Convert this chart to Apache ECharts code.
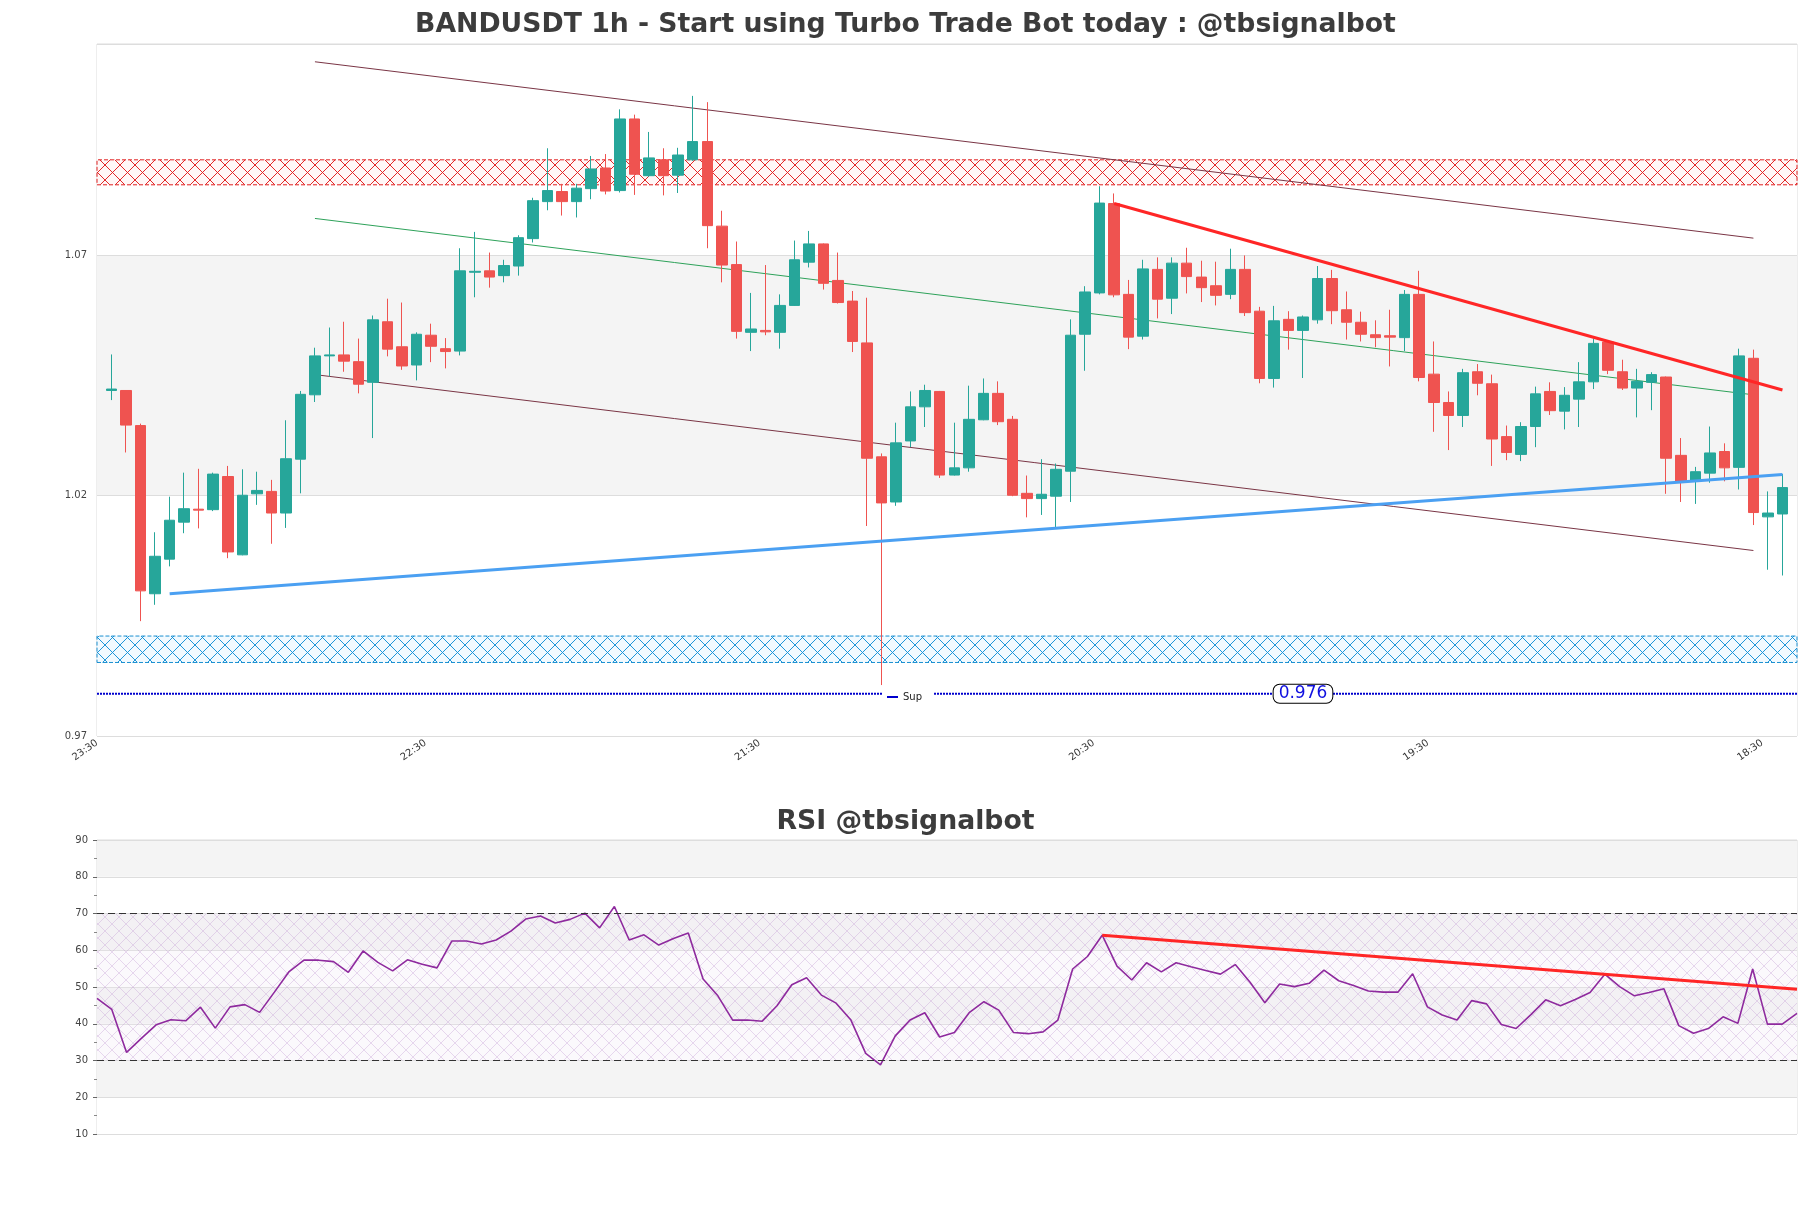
<!DOCTYPE html>
<html>
<head>
<meta charset="utf-8">
<script src="https://cdn.jsdelivr.net/npm/echarts@6/dist/echarts.min.js"></script>
<style>
html,body{margin:0;padding:0;background:#fff;}
#main{width:1811px;height:1208px;}
</style>
</head>
<body>
<div id="main"></div>
<script>
// ---------- data ----------
const timeLabels = ['23:30', '22:30', '21:30', '20:30', '19:30', '18:30'];

const opens = [1.0419,1.0419,1.0346,0.9996,1.0068,1.0145,1.0172,1.0171,1.0240,1.0077,
1.0204,1.0209,1.0164,1.0276,1.0410,1.0491,1.0493,1.0479,1.0436,1.0562,
1.0510,1.0472,1.0534,1.0506,1.0501,1.0665,1.0668,1.0658,1.0678,1.0735,
1.0812,1.0833,1.0812,1.0839,1.0882,1.0835,1.0984,1.0866,1.0899,1.0867,
1.0899,1.0937,1.0761,1.0681,1.0540,1.0544,1.0540,1.0596,1.0686,1.0724,
1.0648,1.0605,1.0518,1.0281,1.0187,1.0314,1.0385,1.0417,1.0243,1.0258,
1.0358,1.0413,1.0359,1.0205,1.0194,1.0199,1.0251,1.0536,1.0622,1.0808,
1.0619,1.0532,1.0671,1.0611,1.0684,1.0655,1.0637,1.0619,1.0671,1.0584,
1.0444,1.0567,1.0544,1.0566,1.0652,1.0587,1.0561,1.0535,1.0533,1.0529,
1.0619,1.0453,1.0394,1.0367,1.0458,1.0433,1.0323,1.0286,1.0344,1.0417,
1.0376,1.0401,1.0437,1.0520,1.0458,1.0424,1.0436,1.0447,1.0284,1.0230,
1.0247,1.0292,1.0259,1.0486,1.0156,1.0162];
const closes = [1.0422,1.0347,1.0002,1.0074,1.0149,1.0173,1.0170,1.0245,1.0083,1.0201,
1.0211,1.0164,1.0277,1.0411,1.0491,1.0493,1.0480,1.0432,1.0566,1.0505,
1.0470,1.0536,1.0511,1.0500,1.0668,1.0667,1.0655,1.0679,1.0737,1.0814,
1.0835,1.0812,1.0840,1.0880,1.0834,1.0984,1.0869,1.0903,1.0866,1.0909,
1.0937,1.0762,1.0680,1.0542,1.0547,1.0541,1.0596,1.0691,1.0724,1.0642,
1.0602,1.0521,1.0278,1.0185,1.0310,1.0385,1.0419,1.0243,1.0258,1.0359,
1.0413,1.0354,1.0201,1.0194,1.0203,1.0255,1.0534,1.0624,1.0809,1.0618,
1.0530,1.0672,1.0609,1.0684,1.0656,1.0633,1.0617,1.0671,1.0581,1.0444,
1.0564,1.0544,1.0572,1.0652,1.0585,1.0561,1.0536,1.0529,1.0530,1.0619,
1.0446,1.0394,1.0367,1.0456,1.0434,1.0318,1.0290,1.0344,1.0412,1.0377,
1.0409,1.0437,1.0517,1.0461,1.0424,1.0438,1.0452,1.0278,1.0230,1.0250,
1.0289,1.0258,1.0491,1.0165,1.0164,1.0217];
const lows = [1.0399,1.0290,0.9939,0.9973,1.0053,1.0122,1.0132,1.0168,1.0070,1.0076,
1.0181,1.0100,1.0133,1.0205,1.0395,1.0448,1.0458,1.0413,1.0320,1.0490,
1.0462,1.0440,1.0478,1.0465,1.0492,1.0613,1.0633,1.0644,1.0658,1.0727,
1.0794,1.0783,1.0779,1.0817,1.0827,1.0831,1.0826,1.0864,1.0825,1.0830,
1.0897,1.0715,1.0644,1.0527,1.0501,1.0534,1.0506,1.0595,1.0675,1.0629,
1.0600,1.0499,1.0137,0.9806,1.0179,1.0301,1.0343,1.0237,1.0242,1.0250,
1.0357,1.0347,1.0199,1.0155,1.0160,1.0133,1.0187,1.0460,1.0619,1.0613,
1.0505,1.0525,1.0569,1.0578,1.0621,1.0603,1.0596,1.0609,1.0574,1.0434,
1.0425,1.0504,1.0445,1.0558,1.0557,1.0525,1.0521,1.0509,1.0469,1.0501,
1.0438,1.0333,1.0295,1.0343,1.0409,1.0262,1.0274,1.0272,1.0301,1.0368,
1.0338,1.0343,1.0422,1.0453,1.0420,1.0363,1.0378,1.0204,1.0187,1.0183,
1.0227,1.0230,1.0213,1.0139,1.0046,1.0034];
const highs = [1.0494,1.0419,1.0350,1.0124,1.0198,1.0248,1.0256,1.0248,1.0262,1.0255,
1.0250,1.0233,1.0357,1.0418,1.0508,1.0550,1.0562,1.0527,1.0575,1.0610,
1.0602,1.0540,1.0558,1.0528,1.0715,1.0749,1.0706,1.0691,1.0742,1.0820,
1.0923,1.0849,1.0849,1.0907,1.0911,1.1004,1.0993,1.0957,1.0923,1.0924,
1.1032,1.1019,1.0793,1.0729,1.0622,1.0680,1.0619,1.0731,1.0751,1.0725,
1.0706,1.0626,1.0612,1.0288,1.0352,1.0417,1.0431,1.0418,1.0352,1.0429,
1.0444,1.0438,1.0366,1.0242,1.0276,1.0267,1.0567,1.0636,1.0844,1.0829,
1.0649,1.0691,1.0696,1.0696,1.0716,1.0689,1.0687,1.0714,1.0700,1.0593,
1.0595,1.0584,1.0575,1.0678,1.0670,1.0625,1.0583,1.0565,1.0587,1.0628,
1.0668,1.0521,1.0417,1.0464,1.0474,1.0452,1.0346,1.0353,1.0427,1.0436,
1.0426,1.0478,1.0527,1.0521,1.0483,1.0464,1.0457,1.0448,1.0320,1.0260,
1.0344,1.0309,1.0506,1.0504,1.0209,1.0245];

const rsi = [46.9,43.9,32.2,36.0,39.7,41.1,40.8,44.5,38.8,44.6,
45.2,43.1,48.6,54.2,57.3,57.3,56.9,54.0,59.8,56.7,
54.4,57.4,56.2,55.2,62.5,62.5,61.7,62.8,65.2,68.5,
69.3,67.4,68.4,70.1,66.1,71.9,62.8,64.2,61.4,63.2,
64.7,52.2,47.6,41.0,41.0,40.7,44.9,50.6,52.5,47.8,
45.6,41.0,31.95,28.8,36.7,41.0,43.0,36.4,37.6,43.0,
46.0,43.7,37.6,37.3,37.8,41.0,54.9,58.3,64.1,55.7,
51.9,56.6,54.1,56.6,55.5,54.5,53.5,56.1,51.3,45.7,
50.8,50.1,51.0,54.6,51.7,50.4,48.9,48.6,48.6,53.6,
44.6,42.4,41.0,46.3,45.4,39.8,38.7,42.5,46.5,44.9,
46.6,48.5,53.5,50.1,47.6,48.5,49.5,39.5,37.4,38.7,
41.9,40.1,54.9,39.9,39.9,42.8];

// zones and lines (index, price)
const resistanceZone = [1.0847, 1.0899];
const supportZone = [0.9853, 0.9908];
const supLevel = 0.9788;
const supLabel = '0.976';
const channelUpper = [[14, 1.1103], [113, 1.0736]];
const channelMid = [[14, 1.0777], [113, 1.0410]];
const channelLower = [[14, 1.0452], [113, 1.0086]];
const resistLine = [[69, 1.0808], [115, 1.0420]];
const supportLine = [[4, 0.9996], [115, 1.0244]];
const rsiTrend = [[68, 64.1], [115, 49.4]];
const rsiLevels = [30, 70];
const rsiZone = [30, 70];

// ---------- build ----------
const N = opens.length;
const X_MIN = -1, X_MAX = N;
const candleData = [];
for (let i = 0; i < N; i++) candleData.push([i, opens[i], closes[i], lows[i], highs[i]]);
const rsiData = rsi.map((v, i) => [i, v]);

function hatch(color, size, bg, lw) {
  const c = document.createElement('canvas');
  c.width = size; c.height = size;
  const g = c.getContext('2d');
  if (bg) { g.fillStyle = bg; g.fillRect(0, 0, size, size); }
  g.strokeStyle = color; g.lineWidth = lw || 1;
  g.beginPath();
  g.moveTo(0, 0); g.lineTo(size, size);
  g.moveTo(size, 0); g.lineTo(0, size);
  g.stroke();
  return c;
}
const redHatch = hatch('rgba(225,30,30,0.95)', 15, 'rgba(255,240,240,0.5)', 1);
const blueHatch = hatch('rgba(20,145,215,0.95)', 15, 'rgba(230,246,255,0.5)', 1);
const rsiHatch = hatch('rgba(190,150,210,0.35)', 14, 'rgba(240,230,245,0.25)', 1);

// label positions on the time axis (one label every 23 candles, drawn slightly left of the candle)
const labelStep = 23;
const labelShift = -0.4;
const labelValues = timeLabels.map((t, k) => Math.max(X_MIN, -1 + labelShift + k * labelStep));

const FONT = 'DejaVu Sans';
const chart = echarts.init(document.getElementById('main'), null, {renderer: 'canvas'});

const option = {
  backgroundColor: '#ffffff',
  animation: false,
  title: [
    {text: 'BANDUSDT 1h - Start using Turbo Trade Bot today : @tbsignalbot', left: 'center', top: 7,
     textStyle: {fontFamily: FONT, fontSize: 26.7, fontWeight: 'bold', color: '#3c3c3c'}},
    {text: 'RSI @tbsignalbot', left: 'center', top: 804,
     textStyle: {fontFamily: FONT, fontSize: 26.7, fontWeight: 'bold', color: '#3c3c3c'}}
  ],
  legend: {
    data: ['Sup'], left: 882, top: 689, orient: 'horizontal',
    backgroundColor: '#ffffff', padding: [3, 12, 3, 5],
    itemWidth: 11, itemHeight: 2, icon: 'rect', selectedMode: false,
    textStyle: {fontFamily: FONT, fontSize: 10, color: '#222'}
  },
  grid: [
    {left: 97, top: 44, width: 1700, height: 692, show: true, borderColor: '#dcdcdc', borderWidth: 1, containLabel: false},
    {left: 97, top: 840, width: 1700, height: 294, show: true, borderColor: '#dcdcdc', borderWidth: 1, containLabel: false}
  ],
  xAxis: [
    {type: 'value', gridIndex: 0, min: X_MIN, max: X_MAX,
     axisLine: {show: false}, axisTick: {show: false}, splitLine: {show: false},
     axisLabel: {
       customValues: labelValues,
       showMinLabel: true, showMaxLabel: true,
       rotate: 35, fontFamily: FONT, fontSize: 10, color: '#333', margin: 6,
       formatter: function (v) {
         let best = -1, bd = 1e9;
         labelValues.forEach((lv, k) => { const d = Math.abs(lv - v); if (d < bd) { bd = d; best = k; } });
         return bd < 0.05 ? timeLabels[best] : '';
       }
     }},
    {type: 'value', gridIndex: 1, min: 0, max: N - 1, show: false}
  ],
  yAxis: [
    {type: 'value', gridIndex: 0, min: 0.97, max: 1.114, interval: 0.05,
     axisLine: {show: false}, axisTick: {show: false},
     axisLabel: {fontFamily: FONT, fontSize: 10, color: '#444', margin: 10, showMaxLabel: false,
       formatter: v => (Math.round(v * 100) / 100).toString()},
     splitLine: {show: true, lineStyle: {color: '#dddddd', width: 1}},
     splitArea: {show: true, areaStyle: {color: ['#ffffff', '#f4f4f4']}}},
    {type: 'value', gridIndex: 1, min: 10, max: 90, interval: 10,
     axisLine: {show: false},
     axisTick: {show: true, length: 4, lineStyle: {color: '#666'}},
     minorTick: {show: true, splitNumber: 2, length: 3, lineStyle: {color: '#888'}},
     axisLabel: {fontFamily: FONT, fontSize: 10, color: '#444', margin: 9},
     splitLine: {show: true, lineStyle: {color: '#dddddd', width: 1}},
     splitArea: {show: true, areaStyle: {color: ['#ffffff', '#f4f4f4']}}}
  ],
  series: [
    {
      name: 'zones', type: 'line', xAxisIndex: 0, yAxisIndex: 0, data: [], z: 1, silent: true,
      markArea: {
        silent: true,
        data: [
          [{xAxis: X_MIN, yAxis: resistanceZone[0], itemStyle: {color: {image: redHatch, repeat: 'repeat'}, borderColor: '#e02020', borderWidth: 1, borderType: 'dashed'}},
           {xAxis: X_MAX, yAxis: resistanceZone[1]}],
          [{xAxis: X_MIN, yAxis: supportZone[0], itemStyle: {color: {image: blueHatch, repeat: 'repeat'}, borderColor: '#1a8fd0', borderWidth: 1, borderType: 'dashed'}},
           {xAxis: X_MAX, yAxis: supportZone[1]}]
        ]
      }
    },
    {name: 'chUpper', type: 'line', xAxisIndex: 0, yAxisIndex: 0, data: channelUpper, symbol: 'none', z: 1,
     lineStyle: {color: '#7a3545', width: 1}, silent: true},
    {name: 'chMid', type: 'line', xAxisIndex: 0, yAxisIndex: 0, data: channelMid, symbol: 'none', z: 1,
     lineStyle: {color: '#2ea25a', width: 1}, silent: true},
    {name: 'chLower', type: 'line', xAxisIndex: 0, yAxisIndex: 0, data: channelLower, symbol: 'none', z: 1,
     lineStyle: {color: '#7a3545', width: 1}, silent: true},
    {
      name: 'Sup', type: 'line', xAxisIndex: 0, yAxisIndex: 0,
      data: [[X_MIN, supLevel], [X_MAX, supLevel]], symbol: 'none', z: 2,
      itemStyle: {color: '#0000cd'},
      lineStyle: {color: '#0000cd', width: 2, type: [2, 1]},
      markPoint: {
        symbol: 'rect', symbolSize: 1, itemStyle: {color: 'rgba(0,0,0,0)'},
        data: [{coord: [82, supLevel], value: supLabel}],
        label: {show: true, position: 'inside', formatter: supLabel, fontFamily: FONT, fontSize: 17,
          color: '#1010e0', backgroundColor: '#ffffff', borderColor: '#000', borderWidth: 1,
          borderRadius: 6, padding: [1, 5, 0, 5]}
      }
    },
    {
      name: 'price', type: 'candlestick', xAxisIndex: 0, yAxisIndex: 0, z: 3,
      encode: {x: 0, y: [1, 2, 3, 4]},
      data: candleData, barWidth: 11,
      itemStyle: {color: '#26a69a', color0: '#ef5350', borderColor: '#26a69a', borderColor0: '#ef5350', borderWidth: 1}
    },
    {name: 'resist', type: 'line', xAxisIndex: 0, yAxisIndex: 0, data: resistLine, symbol: 'none', z: 4,
     lineStyle: {color: '#ff2626', width: 3}, silent: true},
    {name: 'support', type: 'line', xAxisIndex: 0, yAxisIndex: 0, data: supportLine, symbol: 'none', z: 4,
     lineStyle: {color: '#4ba0f2', width: 3}, silent: true},
    {
      name: 'rsi', type: 'line', xAxisIndex: 1, yAxisIndex: 1, data: rsiData, symbol: 'none', z: 3,
      lineStyle: {color: '#8e2a9e', width: 1.6},
      markArea: {
        silent: true,
        data: [[{xAxis: 0, yAxis: rsiZone[0], itemStyle: {color: {image: rsiHatch, repeat: 'repeat'}}},
                {xAxis: N - 1, yAxis: rsiZone[1]}]]
      },
      markLine: {
        silent: true, symbol: 'none', label: {show: false},
        lineStyle: {color: '#333', type: [7, 4], width: 1.2},
        data: rsiLevels.map(v => ({yAxis: v}))
      }
    },
    {name: 'rsiTrend', type: 'line', xAxisIndex: 1, yAxisIndex: 1, data: rsiTrend, symbol: 'none', z: 4,
     lineStyle: {color: '#ff2626', width: 3}, silent: true}
  ]
};
chart.setOption(option);
</script>
</body>
</html>
